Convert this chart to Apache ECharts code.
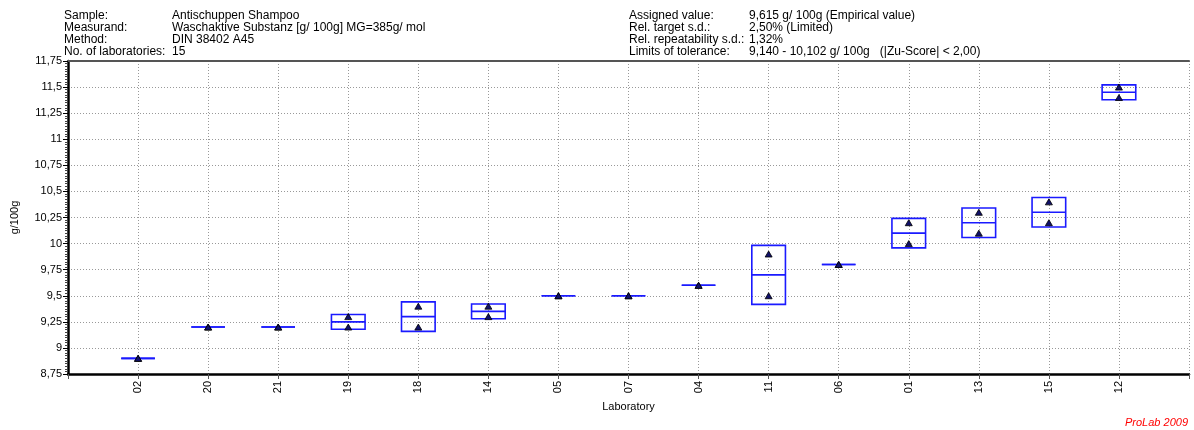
<!DOCTYPE html>
<html>
<head>
<meta charset="utf-8">
<script src="https://cdn.jsdelivr.net/npm/echarts@6/dist/echarts.min.js"></script>
<style>
html,body{margin:0;padding:0;background:#fff;}
#chart{width:1194px;height:430px;}
</style>
</head>
<body>
<div id="chart"></div>
<script>
// Laboratories in plotted order
const labs = ['02','20','21','19','18','14','05','07','04','11','06','01','13','15','12'];
// Replicate values (g/100g)
const rep1 = [8.90, 9.20, 9.20, 9.30, 9.40, 9.40, 9.50, 9.50, 9.60, 9.90, 9.80, 10.20, 10.30, 10.40, 11.50];
const rep2 = [8.90, 9.20, 9.20, 9.20, 9.20, 9.30, 9.50, 9.50, 9.60, 9.50, 9.80, 10.00, 10.10, 10.20, 11.40];
// Y axis ticks
const yMin = 8.75, yMax = 11.75, yStep = 0.25;

const headerLeft = [
  ['Sample:', 'Antischuppen Shampoo'],
  ['Measurand:', 'Waschaktive Substanz [g/ 100g] MG=385g/ mol'],
  ['Method:', 'DIN 38402 A45'],
  ['No. of laboratories:', '15']
];
const headerRight = [
  ['Assigned value:', '9,615 g/ 100g (Empirical value)'],
  ['Rel. target s.d.:', '2,50% (Limited)'],
  ['Rel. repeatability s.d.:', '1,32%'],
  ['Limits of tolerance:', '9,140 - 10,102 g/ 100g   (|Zu-Score| < 2,00)']
];

const boxData = labs.map((l, i) => {
  const a = rep1[i], b = rep2[i];
  const m = (a + b) / 2;
  const sd = Math.abs(a - b) / Math.SQRT2;
  return [i + 1, m, sd];
});
const pts = [];
labs.forEach((l, i) => { pts.push([i + 1, rep1[i]]); pts.push([i + 1, rep2[i]]); });

const font = '"Liberation Sans", Arial, sans-serif';
const txt = (text, left, top) => ({type:'text', left, top,
  style:{text, fontSize:12, fontFamily:font, fill:'#000'}});
const graphics = [];
headerLeft.forEach((r, i) => {
  graphics.push(txt(r[0], 64, 10 + i*12));
  graphics.push(txt(r[1], 172, 10 + i*12));
});
headerRight.forEach((r, i) => {
  graphics.push(txt(r[0], 629, 10 + i*12));
  graphics.push(txt(r[1], 749, 10 + i*12));
});
graphics.push({type:'text', right:6, top:417, style:{text:'ProLab 2009', fontSize:11, fontStyle:'italic', fontFamily:font, fill:'#ff0000'}});

const chart = echarts.init(document.getElementById('chart'));
const HW = 0.24;
chart.setOption({
  animation:false,
  backgroundColor:'#fff',
  textStyle:{fontFamily:font},
  grid:{left:68, right:5, top:61, bottom:56},
  graphic:graphics,
  xAxis:[{
    type:'value', min:0, max:labs.length + 1, interval:1,
    name:'Laboratory', nameLocation:'middle', nameGap:24,
    nameTextStyle:{color:'#000', fontSize:11, fontFamily:font},
    axisLine:{show:true, onZero:false, lineStyle:{color:'#000', width:2.5}},
    axisTick:{show:true, length:5, lineStyle:{color:'#555'}},
    axisLabel:{rotate:90, margin:7, color:'#000', fontSize:11, fontFamily:font,
      formatter:v => (v >= 1 && v <= labs.length) ? labs[v-1] : ''},
    splitLine:{show:true, lineStyle:{color:'#999', type:[1,2], width:1}}
  },{
    type:'value', position:'top', min:0, max:labs.length + 1,
    axisLine:{show:true, lineStyle:{color:'#555', width:2}},
    axisTick:{show:false}, axisLabel:{show:false}, splitLine:{show:false}
  }],
  yAxis:{
    type:'value', min:yMin, max:yMax, interval:yStep,
    name:'g/100g', nameLocation:'middle', nameGap:48, nameRotate:90,
    nameTextStyle:{color:'#000', fontSize:11, fontFamily:font},
    axisLine:{show:true, lineStyle:{color:'#000', width:2.5}},
    axisTick:{show:true, length:5, lineStyle:{color:'#000'}},
    minorTick:{show:true, splitNumber:10, length:3, lineStyle:{color:'#444'}},
    axisLabel:{color:'#000', fontSize:11, fontFamily:font, margin:6,
      formatter:v => String(Math.round(v*100)/100).replace('.', ',')},
    splitLine:{show:true, lineStyle:{color:'#999', type:[1,2], width:1}}
  },
  series:[{
    type:'custom',
    data:boxData,
    encode:{x:0, y:1},
    z:3,
    renderItem:(params, api) => {
      const x = api.value(0), m = api.value(1), s = api.value(2);
      const p1 = api.coord([x - HW, m + s]);
      const p2 = api.coord([x + HW, m - s]);
      const a = api.coord([x - HW, m]);
      const b = api.coord([x + HW, m]);
      const st = {fill:'none', stroke:'#1a1aff', lineWidth:1.6};
      return {type:'group', children:[
        {type:'rect', shape:{x:p1[0], y:p1[1], width:p2[0]-p1[0], height:p2[1]-p1[1]}, style:st},
        {type:'line', shape:{x1:a[0], y1:a[1], x2:b[0], y2:b[1]}, style:{stroke:'#1a1aff', lineWidth:1.6}}
      ]};
    }
  },{
    type:'scatter',
    data:pts,
    symbol:'triangle',
    symbolSize:[7,6],
    z:4,
    itemStyle:{color:'#10106a', borderColor:'#000', borderWidth:0.8, opacity:1}
  }]
});
</script>
</body>
</html>
